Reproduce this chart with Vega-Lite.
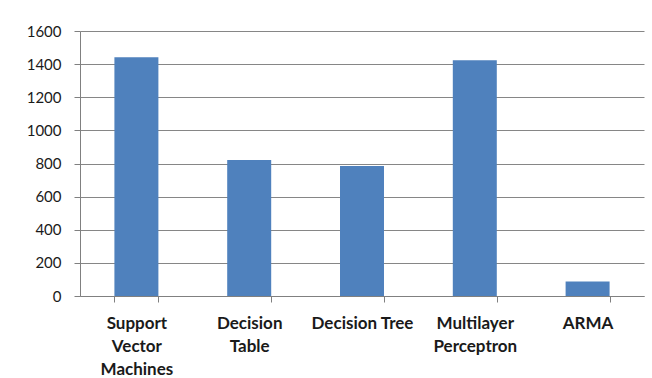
{
  "$schema": "https://vega.github.io/schema/vega-lite/v6.json",
  "autosize": {"type": "none"},
  "padding": {"left": 80, "top": 31, "right": 8, "bottom": 82},
  "width": 564,
  "height": 265,
  "background": "white",
  "config": {"view": {"stroke": null}, "font": "Lato", "axis": {"ticks": true, "tickWidth": 1, "tickOpacity": 1}},
  "data": {"values": [
    {"method": "Support Vector Machines", "value": 1442},
    {"method": "Decision Table", "value": 821},
    {"method": "Decision Tree", "value": 785},
    {"method": "Multilayer Perceptron", "value": 1424},
    {"method": "ARMA", "value": 87}
  ]},
  "mark": {"type": "bar", "color": "#4F81BD"},
  "encoding": {
    "x": {
      "field": "method", "type": "nominal", "sort": null,
      "scale": {"paddingInner": 0.61, "paddingOuter": 0.305},
      "axis": {
        "title": null, "labelAngle": 0, "tickBand": "extent",
        "domainColor": "#808080", "tickColor": "#808080", "tickSize": 6, "ticks": true,
        "labelFont": "Lato", "labelFontWeight": "bold", "labelFontSize": 17, "labelColor": "#1a1a1a",
        "labelLineHeight": 23, "labelPadding": 13, "labelBaseline": "top",
        "labelExpr": "!isValid(datum.value) ? '' : (datum.value == 'Decision Tree' ? datum.value : split(datum.value, ' '))"
      }
    },
    "y": {
      "field": "value", "type": "quantitative",
      "scale": {"domain": [0, 1600], "nice": false},
      "axis": {
        "title": null, "values": [0, 200, 400, 600, 800, 1000, 1200, 1400, 1600], "format": "d",
        "grid": true, "gridColor": "#868686", "gridWidth": 1,
        "domainColor": "#808080", "tickColor": "#808080", "tickSize": 6, "ticks": true,
        "labelFont": "Lato", "labelFontSize": 15, "labelColor": "#1a1a1a", "labelPadding": 13
      }
    }
  }
}
